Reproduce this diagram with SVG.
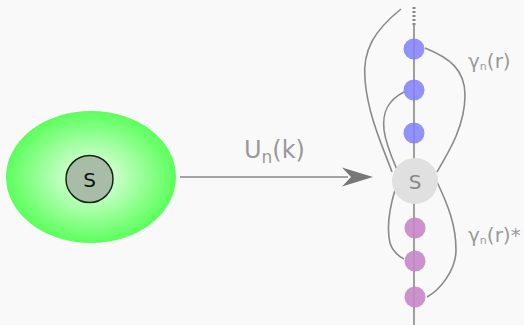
<svg xmlns="http://www.w3.org/2000/svg" width="524" height="325" viewBox="0 0 524 325">
<defs>
<radialGradient id="g" cx="50%" cy="50%" r="50%">
<stop offset="0" stop-color="#f2fff2"/>
<stop offset="1" stop-color="#5cff5c"/>
</radialGradient>
<style>
.c{fill:none;stroke:#8a8a8a;stroke-width:1.6}
.t{font-family:"DejaVu Sans",sans-serif;fill:#999}
.b{fill:#8080ff;opacity:0.85}
.p{fill:#c586c8;opacity:0.9}
</style>
</defs>
<rect width="524" height="325" fill="#f9f9f9"/>
<g id="region">
<ellipse cx="91" cy="177" rx="85" ry="66" fill="url(#g)"/>
</g>
<g id="source">
<circle cx="89.5" cy="179" r="23.5" fill="#a8bca8" stroke="#102810" stroke-width="1.5"/>
<text x="89.5" y="187" text-anchor="middle" font-family="DejaVu Sans, sans-serif" font-size="20" fill="#111">S</text>
</g>
<g id="connectors">
<line x1="180" y1="177" x2="348" y2="177" stroke="#888" stroke-width="1.6"/>
<path d="M373,177 L342,167.5 L351,177 L342,186.5 Z" fill="#777"/>
<line x1="414" y1="25" x2="414" y2="325" stroke="#888" stroke-width="1.6"/>
<line x1="414" y1="7" x2="414" y2="25" stroke="#888" stroke-width="3" stroke-dasharray="2 2"/>
<path class="c" d="M401,9 C375,30 362,50 365,80 C368,115 382,145 392,172"/>
<path class="c" d="M404,92 C388,100 382,112 384,130 C386,145 392,158 398,172"/>
<path class="c" d="M425,48 C450,58 465,70 465,95 C465,125 450,150 437,172"/>
<path class="c" d="M395,190 C389,210 387,230 390,243 C393,252 398,256 404,259"/>
<path class="c" d="M437,182 C448,205 456,225 456,250 C456,270 440,290 427,297"/>
<text class="t" x="244" y="158" font-size="24">U<tspan font-size="17" dy="5">n</tspan><tspan dy="-5">(k)</tspan></text>
</g>
<g id="target">
<circle cx="415" cy="181" r="23" fill="#e0e0e0"/>
<text x="415" y="189" text-anchor="middle" font-family="DejaVu Sans, sans-serif" font-size="20" fill="#888">S</text>
</g>
<g id="plus">
<circle class="b" cx="414" cy="49" r="10.5"/>
<circle class="b" cx="414" cy="90" r="10.5"/>
<circle class="b" cx="414" cy="133" r="10.5"/>
<text class="t" x="468" y="68" font-size="20">γ<tspan font-size="11" dy="2">n</tspan><tspan dy="-2">(r)</tspan></text>
</g>
<g id="minus">
<circle class="p" cx="415" cy="228" r="10.5"/>
<circle class="p" cx="415" cy="261" r="10.5"/>
<circle class="p" cx="415" cy="297" r="10.5"/>
<text class="t" x="468" y="242" font-size="20">γ<tspan font-size="11" dy="2">n</tspan><tspan dy="-2">(r)*</tspan></text>
</g>
</svg>
